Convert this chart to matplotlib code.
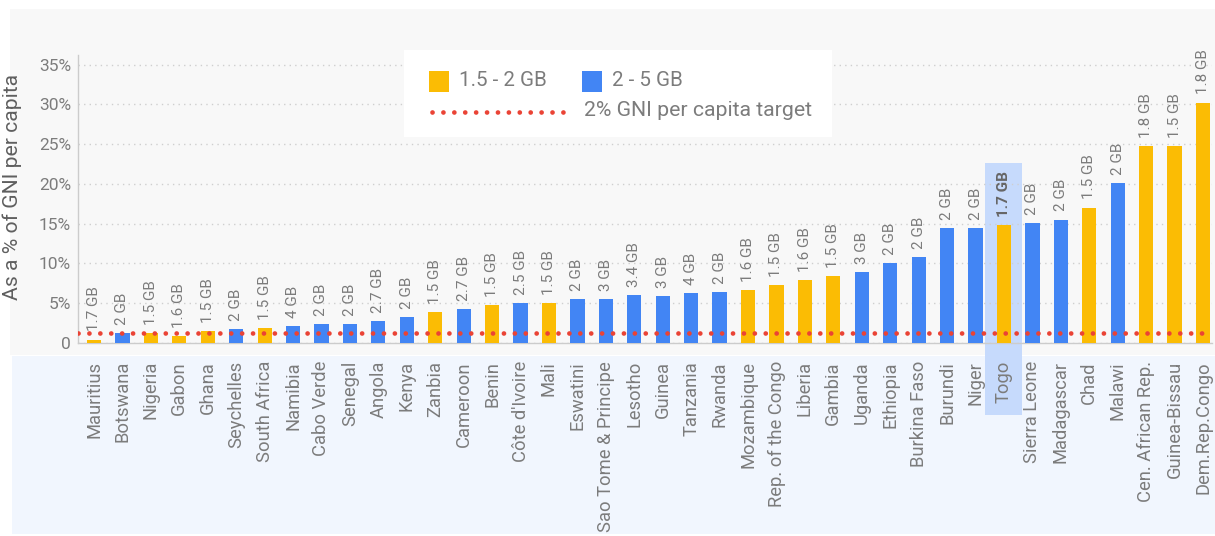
import matplotlib
matplotlib.use("Agg")
import matplotlib.pyplot as plt
from matplotlib.patches import Rectangle
from matplotlib.lines import Line2D

# ---------------- data ----------------
countries = ["Mauritius", "Botswana", "Nigeria", "Gabon", "Ghana", "Seychelles",
             "South Africa", "Namibia", "Cabo Verde", "Senegal", "Angola", "Kenya",
             "Zanbia", "Cameroon", "Benin", "Côte d'Ivoire", "Mali", "Eswatini",
             "Sao Tome & Principe", "Lesotho", "Guinea", "Tanzania", "Rwanda",
             "Mozambique", "Rep. of the Congo", "Liberia", "Gambia", "Uganda",
             "Ethiopia", "Burkina Faso", "Burundi", "Niger", "Togo", "Sierra Leone",
             "Madagascar", "Chad", "Malawi", "Cen. African Rep.", "Guinea-Bissau",
             "Dem.Rep.Congo"]
values = [0.4, 1.2, 1.2, 0.9, 1.5, 1.75, 1.9, 2.1, 2.4, 2.4, 2.75, 3.25,
          3.9, 4.25, 4.75, 5.0, 5.0, 5.5, 5.5, 6.0, 5.9, 6.3, 6.4,
          6.65, 7.3, 7.9, 8.4, 8.9, 10.0, 10.8, 14.4, 14.4, 14.8, 15.1,
          15.5, 17.0, 20.1, 24.7, 24.7, 30.2]
data_labels = ["1.7 GB", "2 GB", "1.5 GB", "1.6 GB", "1.5 GB", "2 GB", "1.5 GB",
               "4 GB", "2 GB", "2 GB", "2.7 GB", "2 GB", "1.5 GB", "2.7 GB",
               "1.5 GB", "2.5 GB", "1.5 GB", "2 GB", "3 GB", "3.4 GB", "3 GB",
               "4 GB", "2 GB", "1.6 GB", "1.5 GB", "1.6 GB", "1.5 GB", "3 GB",
               "2 GB", "2 GB", "2 GB", "2 GB", "1.7 GB", "2 GB", "2 GB", "1.5 GB",
               "2 GB", "1.8 GB", "1.5 GB", "1.8 GB"]
tiers = ["1.5 - 2 GB", "2 - 5 GB", "1.5 - 2 GB", "1.5 - 2 GB", "1.5 - 2 GB",
         "2 - 5 GB", "1.5 - 2 GB", "2 - 5 GB", "2 - 5 GB", "2 - 5 GB", "2 - 5 GB",
         "2 - 5 GB", "1.5 - 2 GB", "2 - 5 GB", "1.5 - 2 GB", "2 - 5 GB",
         "1.5 - 2 GB", "2 - 5 GB", "2 - 5 GB", "2 - 5 GB", "2 - 5 GB", "2 - 5 GB",
         "2 - 5 GB", "1.5 - 2 GB", "1.5 - 2 GB", "1.5 - 2 GB", "1.5 - 2 GB",
         "2 - 5 GB", "2 - 5 GB", "2 - 5 GB", "2 - 5 GB", "2 - 5 GB", "1.5 - 2 GB",
         "2 - 5 GB", "2 - 5 GB", "1.5 - 2 GB", "2 - 5 GB", "1.5 - 2 GB",
         "1.5 - 2 GB", "1.5 - 2 GB"]
target_value = 1.2
target_label = "2% GNI per capita target"
yticks = [0, 5, 10, 15, 20, 25, 30, 35]
ytick_labels = ["0", "5%", "10%", "15%", "20%", "25%", "30%", "35%"]
ylabel = "As a % of GNI per capita"
highlight = "Togo"

# ---------------- style ----------------
plt.rcParams['font.family'] = ['Roboto', 'DejaVu Sans']
tier_colors = {"1.5 - 2 GB": "#fbbc04", "2 - 5 GB": "#4285f4"}
RED = "#ea4335"
GREY_TXT = "#7c7c7c"

W, H = 1215, 536
fig = plt.figure(figsize=(W / 100, H / 100), dpi=100)
fig.patch.set_facecolor("white")


def fx(x):
    return x / W


def fy(y):
    return 1 - y / H


# background panels
fig.patches.append(Rectangle((fx(10), fy(355)), (W - 10) / W, (355 - 9) / H,
                             transform=fig.transFigure, facecolor="#f8f8f8",
                             edgecolor="none", zorder=-2))
fig.patches.append(Rectangle((fx(12), fy(534)), (W - 12) / W, (534 - 356) / H,
                             transform=fig.transFigure, facecolor="#f1f6fe",
                             edgecolor="none", zorder=-2))

ax = fig.add_axes([fx(78), fy(343), (1212 - 78) / W, (343 - 55) / H])
ax.patch.set_visible(False)

x = list(range(len(countries)))
colors = [tier_colors[t] for t in tiers]
ax.bar(x, values, width=0.5, color=colors, zorder=3)

# highlight band (below the axis artists so the tick label stays visible)
hi = countries.index(highlight)
ax.add_patch(Rectangle((hi - 0.65, -9.05), 1.3, 22.6 + 9.05, facecolor="#c6dafc",
                       edgecolor="none", zorder=0.2, clip_on=False))

# target line
ax.axhline(target_value, color=RED, lw=3.4, linestyle=(0, (0.01, 2.3)),
           dash_capstyle="round", zorder=4)

# data labels
for i, (v, lbl) in enumerate(zip(values, data_labels)):
    bold = countries[i] == highlight
    ax.annotate(lbl, (i, v), xytext=(0, 6), textcoords="offset points",
                rotation=90, ha="center", va="bottom", fontsize=11,
                color="#666666" if bold else GREY_TXT,
                fontweight="bold" if bold else "normal", zorder=5)

ax.set_xlim(-0.563, 39.316)
ax.set_ylim(0, 36.2)
ax.set_yticks(yticks)
ax.set_yticklabels(ytick_labels)
ax.set_xticks(x)
ax.set_xticklabels(countries, rotation=90)
ax.yaxis.grid(True, linestyle=(0, (1, 3)), color="#cfcfcf", lw=1)
ax.set_axisbelow(True)
ax.tick_params(axis="both", length=0, labelcolor=GREY_TXT)
ax.tick_params(axis="y", labelsize=12.5, pad=5)
ax.tick_params(axis="x", labelsize=13.2, pad=13)
for s in ["top", "right"]:
    ax.spines[s].set_visible(False)
for s in ["left", "bottom"]:
    ax.spines[s].set_color("#cccccc")
    ax.spines[s].set_linewidth(1)

ax.set_ylabel(ylabel, fontsize=15.2, color="#5f5f5f")
ax.yaxis.set_label_coords((22 - 78) / (1212 - 78), (343 - 187) / (343 - 55))

# ---------------- legend (manual) ----------------
fig.patches.append(Rectangle((fx(404), fy(137)), (832 - 404) / W, (137 - 50) / H,
                             transform=fig.transFigure, facecolor="white",
                             edgecolor="none", zorder=5))
tier_names = list(tier_colors.keys())
sq_x = [429, 582]
tx_x = [459, 612]
for name, sx, tx in zip(tier_names, sq_x, tx_x):
    fig.patches.append(Rectangle((fx(sx), fy(92)), 20 / W, 21 / H,
                                 transform=fig.transFigure,
                                 facecolor=tier_colors[name], edgecolor="none",
                                 zorder=6))
    fig.text(fx(tx), fy(81), name, fontsize=14.8, color=GREY_TXT,
             va="center", ha="left", zorder=6)
fig.lines.append(Line2D([fx(432), fx(564)], [fy(112), fy(112)],
                        transform=fig.transFigure, color=RED, lw=3.4,
                        linestyle=(0, (0.01, 2.3)), dash_capstyle="round",
                        zorder=6))
fig.text(fx(584), fy(111), target_label, fontsize=15.3, color=GREY_TXT,
         va="center", ha="left", zorder=6)

fig.savefig("out.png", dpi=100)
